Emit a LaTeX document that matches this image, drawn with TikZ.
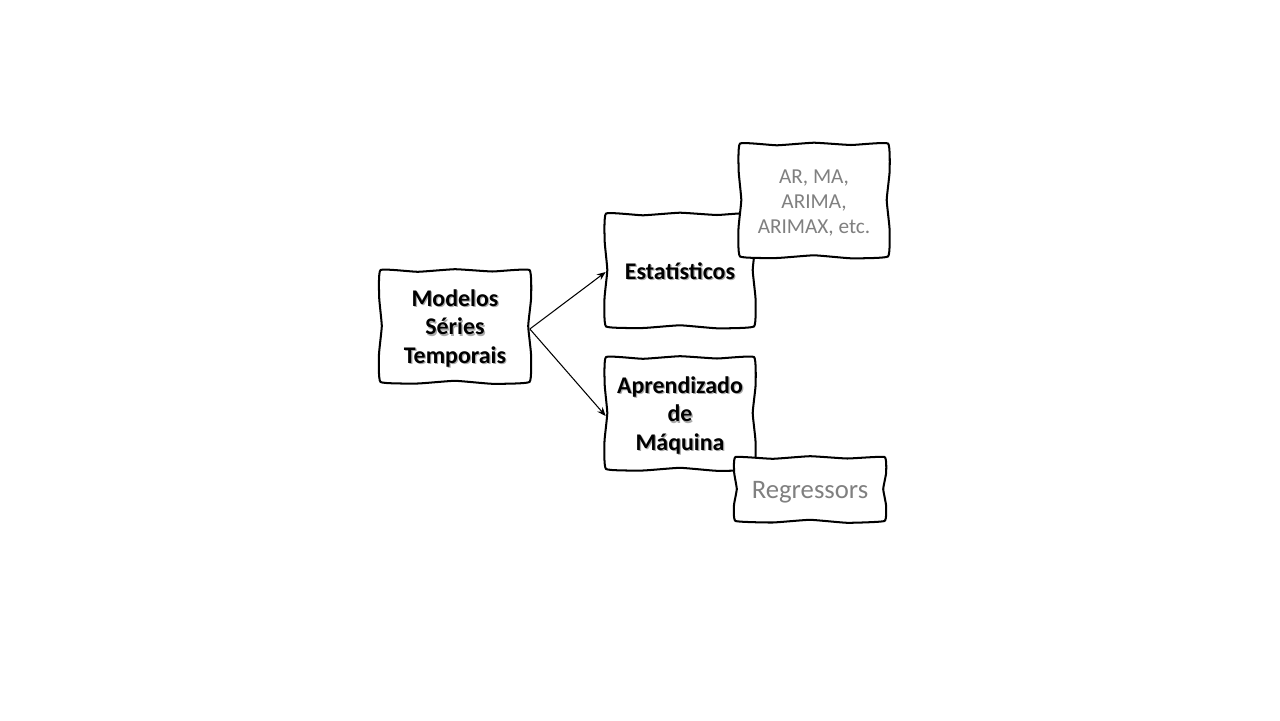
\documentclass[tikz,border=0pt]{standalone}
\usepackage{fontspec}
\setmainfont{Carlito}
\usetikzlibrary{arrows.meta}
\pgfdeclarelayer{background}
\pgfsetlayers{background,main}
\definecolor{txtgray}{RGB}{128,128,128}
\definecolor{shgray}{RGB}{170,170,170}
\newcommand\shtxt[1]{\makebox[0pt][l]{\raisebox{-0.7pt}{\hspace{0.7pt}\textcolor{shgray}{#1}}}#1}
% wavy hand-drawn outline: centre x, centre y, half width, half height (px units)
\newcommand\wavyoutline[4]{%
  \draw[boxline] plot[smooth cycle, tension=0.22] coordinates {
    ({#1-#3},{#2-#4}) ({#1-#3/2},{#2-#4+1.8}) ({#1},{#2-#4-0.8}) ({#1+#3/2},{#2-#4+1.5}) ({#1+#3},{#2-#4})
    ({#1+#3+1.6},{#2-#4/2}) ({#1+#3-1.3},{#2}) ({#1+#3+1.5},{#2+#4/2}) ({#1+#3},{#2+#4})
    ({#1+#3/2},{#2+#4+1.8}) ({#1},{#2+#4-1.2}) ({#1-#3/2},{#2+#4+1.5}) ({#1-#3},{#2+#4})
    ({#1-#3-1.5},{#2+#4/2}) ({#1-#3+1.3},{#2}) ({#1-#3-1.3},{#2-#4/2})};}
\tikzset{
  boxline/.style={draw=black, fill=white, line width=1.15pt, line join=round},
  boxnode/.style={inner sep=0pt, align=center},
  boldtxt/.style={font=\fontsize{13.6pt}{16.4pt}\selectfont\bfseries},
  graytxt/.style={text=txtgray, font=\fontsize{12.1pt}{14.2pt}\selectfont},
  conn/.style={line width=0.6pt, -{Stealth[length=5pt,width=4pt]}}
}
\begin{document}
\begin{tikzpicture}[x=0.02cm,y=-0.02cm]
\useasboundingbox (0,0) rectangle (1280,720);
\node[boxnode, boldtxt, minimum width=2.98cm, minimum height=2.24cm] (mod) at (455,329)
  {\shtxt{Modelos}\\\shtxt{Séries}\\\shtxt{Temporais}};
\node[boxnode, boldtxt, minimum width=2.96cm, minimum height=2.26cm] (est) at (680,272)
  {\shtxt{Estatísticos}};
\node[boxnode, boldtxt, minimum width=2.96cm, minimum height=2.24cm] (apr) at (680,416)
  {\shtxt{Aprendizado}\\\shtxt{de}\\\shtxt{Máquina}};
\node[boxnode, graytxt, minimum width=2.96cm, minimum height=2.26cm] (ar) at (814,203)
  {AR, MA,\\ARIMA,\\ARIMAX, etc.};
\node[boxnode, text=txtgray, font=\fontsize{15.2pt}{18pt}\selectfont, minimum width=2.98cm, minimum height=1.28cm] (reg) at (810,492)
  {Regressors};
\begin{pgfonlayer}{background}
  \wavyoutline{455}{326}{74.5}{56}
  \wavyoutline{680}{270}{74}{56.5}
  \wavyoutline{680}{413}{74}{56}
  \wavyoutline{814}{200}{74}{56.5}
  \wavyoutline{810}{489}{74.5}{32}
\end{pgfonlayer}
\draw[conn] (mod.east) -- (est.west);
\draw[conn] (mod.east) -- (apr.west);
\end{tikzpicture}
\end{document}
